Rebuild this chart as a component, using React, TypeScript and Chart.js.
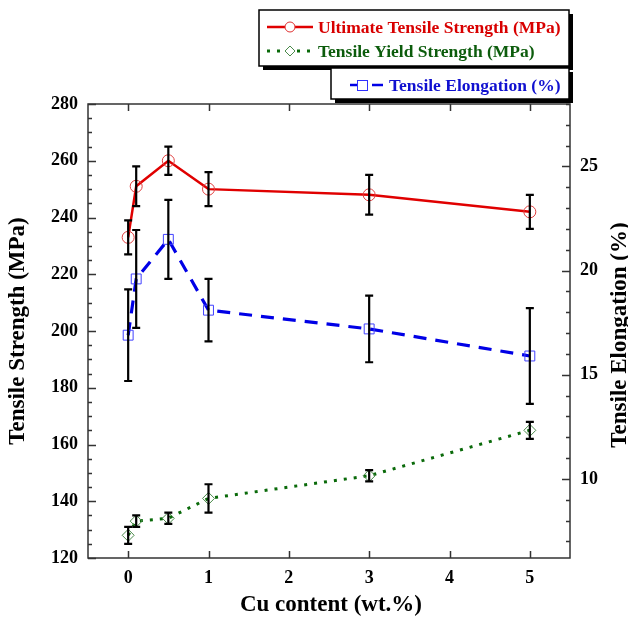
import React, { useEffect, useRef } from "react";
import { Chart, registerables } from "chart.js";

Chart.register(...registerables);

// ---- data ----
const cuContent = [0, 0.1, 0.5, 1, 3, 5];
const utsValues = [233, 251, 260, 250, 248, 242];
const utsErrors = [6, 7, 5, 6, 7, 6];
const tysValues = [128, 133, 134, 141, 149, 165];
const tysErrors = [3, 2, 2, 5, 2, 3];
const elongValues = [16.9, 19.6, 21.5, 18.1, 17.2, 15.9];
const elongErrors = [2.2, 2.35, 1.9, 1.5, 1.6, 2.3];

const xTickValues = [0, 1, 2, 3, 4, 5];
const leftTickValues = [120, 140, 160, 180, 200, 220, 240, 260, 280];
const rightTickValues = [10, 15, 20, 25];

const xTitle = "Cu content (wt.%)";
const leftTitle = "Tensile Strength (MPa)";
const rightTitle = "Tensile Elongation (%)";
const legendLabels = [
  "Ultimate Tensile Strength (MPa)",
  "Tensile Yield Strength (MPa)",
  "Tensile Elongation (%)",
];

const SERIF = '"Liberation Serif", "Times New Roman", serif';
const RED = "#e00000";
const GREEN = "#0a6a0a";
const BLUE = "#0000e6";

const errorBarPlugin = {
  id: "errorBars",
  afterDatasetsDraw(chart: any) {
    const ctx = chart.ctx;
    const xs = chart.scales.x;
    const sets = [
      { vals: utsValues, errs: utsErrors, axis: chart.scales.y },
      { vals: tysValues, errs: tysErrors, axis: chart.scales.y },
      { vals: elongValues, errs: elongErrors, axis: chart.scales.y1 },
    ];
    ctx.save();
    ctx.strokeStyle = "#000";
    ctx.lineWidth = 2.2;
    ctx.setLineDash([]);
    for (const s of sets) {
      s.vals.forEach((v, i) => {
        const px = xs.getPixelForValue(cuContent[i]);
        const top = s.axis.getPixelForValue(v + s.errs[i]);
        const bot = s.axis.getPixelForValue(v - s.errs[i]);
        ctx.beginPath();
        ctx.moveTo(px, top);
        ctx.lineTo(px, bot);
        ctx.moveTo(px - 4, top);
        ctx.lineTo(px + 4, top);
        ctx.moveTo(px - 4, bot);
        ctx.lineTo(px + 4, bot);
        ctx.stroke();
      });
    }
    ctx.restore();
  },
};

const decorPlugin = {
  id: "decor",
  afterDraw(chart: any) {
    const ctx = chart.ctx;
    const { left, right, top, bottom } = chart.chartArea;
    const xs = chart.scales.x;
    const yl = chart.scales.y;
    const yr = chart.scales.y1;
    ctx.save();
    ctx.setLineDash([]);
    // frame
    ctx.strokeStyle = "#333";
    ctx.lineWidth = 1.5;
    ctx.strokeRect(left, top, right - left, bottom - top);
    // x ticks (bottom and top, inward)
    ctx.beginPath();
    for (const v of xTickValues) {
      const px = Math.round(xs.getPixelForValue(v)) + 0.5;
      ctx.moveTo(px, bottom);
      ctx.lineTo(px, bottom - 7);
      ctx.moveTo(px, top);
      ctx.lineTo(px, top + 7);
    }
    // left ticks every 5
    for (let v = yl.min; v <= yl.max + 1e-6; v += 5) {
      const py = Math.round(yl.getPixelForValue(v)) + 0.5;
      const len = v % 20 === 0 ? 8 : 4;
      ctx.moveTo(left, py);
      ctx.lineTo(left + len, py);
    }
    // right ticks every 1
    for (let v = Math.ceil(yr.min); v <= yr.max + 1e-6; v += 1) {
      const py = Math.round(yr.getPixelForValue(v)) + 0.5;
      const len = v % 5 === 0 ? 8 : 4;
      ctx.moveTo(right, py);
      ctx.lineTo(right - len, py);
    }
    ctx.stroke();

    // axis titles
    ctx.fillStyle = "#000";
    ctx.font = `bold 23px ${SERIF}`;
    ctx.textAlign = "center";
    ctx.textBaseline = "middle";
    ctx.fillText(xTitle, (left + right) / 2 + 2, 605);
    const midY = (top + bottom) / 2;
    ctx.save();
    ctx.translate(18, midY);
    ctx.rotate(-Math.PI / 2);
    ctx.fillText(leftTitle, 0, 0);
    ctx.restore();
    ctx.save();
    ctx.translate(620, midY + 4);
    ctx.rotate(-Math.PI / 2);
    ctx.fillText(rightTitle, 0, 0);
    ctx.restore();

    // legend boxes
    const box = (x: number, y: number, w: number, h: number) => {
      ctx.fillStyle = "#000";
      ctx.fillRect(x + 4, y + 4, w, h);
      ctx.fillStyle = "#fff";
      ctx.fillRect(x, y, w, h);
      ctx.strokeStyle = "#000";
      ctx.lineWidth = 1.5;
      ctx.strokeRect(x, y, w, h);
    };
    box(259, 10, 310, 56);
    box(331, 68, 238, 31);

    // entry 1
    ctx.strokeStyle = RED;
    ctx.lineWidth = 2.5;
    ctx.beginPath();
    ctx.moveTo(267, 27);
    ctx.lineTo(313, 27);
    ctx.stroke();
    ctx.fillStyle = "#fff";
    ctx.lineWidth = 1;
    ctx.strokeStyle = "#e03030";
    ctx.beginPath();
    ctx.arc(290, 27, 5, 0, Math.PI * 2);
    ctx.fill();
    ctx.stroke();

    // entry 2
    ctx.strokeStyle = GREEN;
    ctx.lineWidth = 3;
    ctx.setLineDash([3, 7]);
    ctx.beginPath();
    ctx.moveTo(267, 51);
    ctx.lineTo(313, 51);
    ctx.stroke();
    ctx.setLineDash([]);
    ctx.fillStyle = "#fff";
    ctx.strokeStyle = "#4a8a4a";
    ctx.lineWidth = 1;
    ctx.beginPath();
    ctx.moveTo(290, 46);
    ctx.lineTo(295, 51);
    ctx.lineTo(290, 56);
    ctx.lineTo(285, 51);
    ctx.closePath();
    ctx.fill();
    ctx.stroke();

    // entry 3
    ctx.strokeStyle = BLUE;
    ctx.lineWidth = 2.5;
    ctx.beginPath();
    ctx.moveTo(350, 85);
    ctx.lineTo(362, 85);
    ctx.moveTo(372, 85);
    ctx.lineTo(383, 85);
    ctx.stroke();
    ctx.fillStyle = "#fff";
    ctx.strokeStyle = "#3030ff";
    ctx.lineWidth = 1;
    ctx.fillRect(357, 80, 10, 10);
    ctx.strokeRect(357.5, 80.5, 10, 10);

    ctx.font = `bold 17.5px ${SERIF}`;
    ctx.textAlign = "left";
    ctx.textBaseline = "middle";
    ctx.fillStyle = "#d80000";
    ctx.fillText(legendLabels[0], 318, 28);
    ctx.fillStyle = "#0c5c0c";
    ctx.fillText(legendLabels[1], 318, 52);
    ctx.fillStyle = "#1010d0";
    ctx.fillText(legendLabels[2], 389, 86);
    ctx.restore();
  },
};

export default function App() {
  const ref = useRef<HTMLCanvasElement | null>(null);

  useEffect(() => {
    if (!ref.current) return;
    const tickFont = { family: SERIF, size: 18, weight: "bold" as const };
    const chart = new Chart(ref.current, {
      type: "line",
      data: {
        datasets: [
          {
            label: legendLabels[0],
            data: cuContent.map((x, i) => ({ x, y: utsValues[i] })),
            yAxisID: "y",
            borderColor: RED,
            borderWidth: 2.5,
            pointStyle: "circle",
            pointRadius: 6,
            pointBorderColor: "#e04040",
            pointBorderWidth: 1,
            pointBackgroundColor: "rgba(0,0,0,0)",
            tension: 0,
          },
          {
            label: legendLabels[1],
            data: cuContent.map((x, i) => ({ x, y: tysValues[i] })),
            yAxisID: "y",
            borderColor: GREEN,
            borderWidth: 3,
            borderDash: [3, 7],
            pointStyle: "rectRot",
            pointRadius: 6,
            pointBorderColor: "#4a8a4a",
            pointBorderWidth: 1,
            pointBackgroundColor: "rgba(0,0,0,0)",
            tension: 0,
          },
          {
            label: legendLabels[2],
            data: cuContent.map((x, i) => ({ x, y: elongValues[i] })),
            yAxisID: "y1",
            borderColor: BLUE,
            borderWidth: 3.2,
            borderDash: [13, 9],
            pointStyle: "rect",
            pointRadius: 7,
            pointBorderColor: "#4040ff",
            pointBorderWidth: 1,
            pointBackgroundColor: "rgba(0,0,0,0)",
            tension: 0,
          },
        ],
      },
      options: {
        responsive: false,
        animation: false,
        layout: { padding: { top: 104, left: 0, right: 0, bottom: 0 } },
        plugins: {
          legend: { display: false },
          tooltip: { enabled: false },
          title: { display: false },
        },
        scales: {
          x: {
            type: "linear",
            position: "bottom",
            min: -0.5,
            max: 5.5,
            grid: { display: false, drawTicks: false },
            border: { display: false },
            ticks: { color: "#000", font: tickFont, padding: 10, maxRotation: 0 },
            afterBuildTicks: (s: any) => {
              s.ticks = xTickValues.map((v) => ({ value: v }));
            },
            afterFit: (s: any) => {
              s.height = 61;
            },
          },
          y: {
            type: "linear",
            position: "left",
            min: 120,
            max: 280,
            grid: { display: false, drawTicks: false },
            border: { display: false },
            ticks: { color: "#000", font: tickFont, padding: 10 },
            afterBuildTicks: (s: any) => {
              s.ticks = leftTickValues.map((v) => ({ value: v }));
            },
            afterFit: (s: any) => {
              s.width = 88;
            },
          },
          y1: {
            type: "linear",
            position: "right",
            min: 6.2,
            max: 28,
            grid: { display: false, drawTicks: false },
            border: { display: false },
            ticks: { color: "#000", font: tickFont, padding: 10 },
            afterBuildTicks: (s: any) => {
              s.ticks = rightTickValues.map((v) => ({ value: v }));
            },
            afterFit: (s: any) => {
              s.width = 58;
            },
          },
        },
      } as any,
      plugins: [errorBarPlugin, decorPlugin],
    });
    return () => chart.destroy();
  }, []);

  return (
    <div style={{ position: "absolute", left: 0, top: 0, width: 628, height: 619, background: "#fff" }}>
      <canvas ref={ref} width={628} height={619} style={{ display: "block" }} />
    </div>
  );
}
